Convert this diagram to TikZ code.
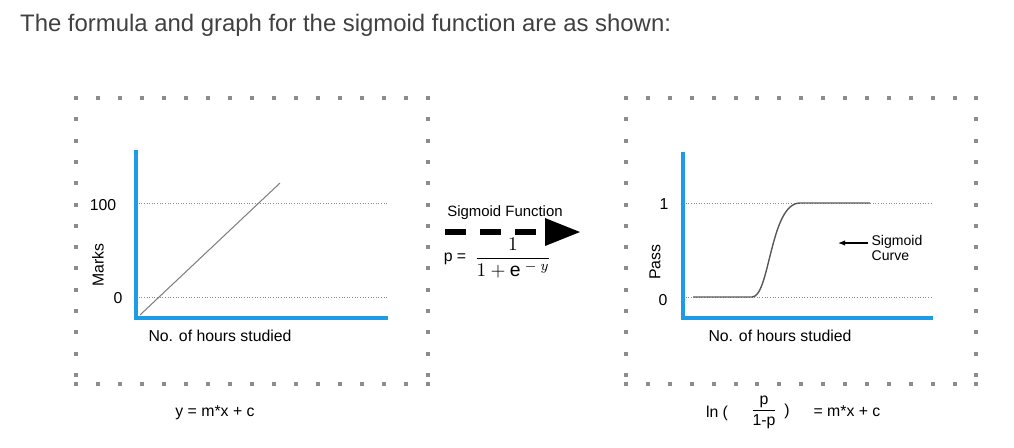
\documentclass[tikz,border=0pt]{standalone}
\usepackage{fontspec}
\setmainfont{Liberation Sans}
\usepackage{amsmath}
\usetikzlibrary{arrows.meta}
\definecolor{axisblue}{HTML}{1E9BE6}
\definecolor{dotgray}{HTML}{8C8C8C}
\tikzset{
  axis/.style={axisblue, line width=2.2pt},
  guide/.style={dotgray, densely dotted, line width=0.5pt},
  lbl/.style={font=\fontsize{9}{10}\selectfont, inner sep=1pt},
}
\begin{document}
\begin{tikzpicture}[x=0.02cm,y=-0.02cm]
  \useasboundingbox (0,0) rectangle (1014,447);
  \node[anchor=west, text=black!75, font=\fontsize{13.6}{16}\selectfont] (title) at (14,25) {The formula and graph for the sigmoid function are as shown:};
  % dotted frames
  \foreach \xx in {76,428,626,976} \foreach \yy in {0,...,13} \fill[dotgray] (\xx-2,98+21.3*\yy-2) rectangle (\xx+2,98+21.3*\yy+2);
  \foreach \yy in {98,384} {
    \foreach \i in {0,...,16} \fill[dotgray] (76+22*\i-2,\yy-2) rectangle (76+22*\i+2,\yy+2);
    \foreach \i in {0,...,16} \fill[dotgray] (626+21.9*\i-2,\yy-2) rectangle (626+21.9*\i+2,\yy+2);
  }
  % left graph
  \draw[guide] (136,203) -- (388,203);
  \draw[guide] (136,297) -- (388,297);
  \draw[gray, line width=0.6pt] (140,315) -- (280,183);
  \draw[axis] (136,150) -- (136,318) -- (388,318);
  \node[lbl] (lhund) at (103,205) {100};
  \node[lbl] (lzero) at (118,298) {0};
  \node[lbl, rotate=90] (marks) at (98,265) {Marks};
  \node[lbl] (lxlab) at (220,336) {No. of hours studied};
  \node[lbl] (lform) at (215,413) {y = m*x + c};
  % middle
  \node[lbl, font=\fontsize{8.5}{10}\selectfont] (sigf) at (505,213) {Sigmoid Function};
  \coordinate (as) at (445,232);
  \coordinate (ae) at (580,232);
  \draw[line width=3pt, dash pattern=on 12pt off 8pt] (as) -- (545,232);
  \fill (545,218) -- (ae) -- (545,246) -- cycle;
  \node[lbl] (peq) at (455,259) {p =};
  \node[lbl, font=\fontsize{11}{12}\selectfont] (frac) at (513,258) {$\dfrac{1}{1+\mathrm{e}^{\;-\;y}}$};
  % right graph
  \draw[guide] (683,203) -- (933,203);
  \draw[guide] (683,297) -- (933,297);
  \draw[gray!70!black, line width=0.8pt] (693,297) -- (752,297) .. controls (770,297) and (770,203) .. (800,203) -- (870,203);
  \draw[axis] (683,152) -- (683,318) -- (933,318);
  \node[lbl] (rone) at (664,204) {1};
  \node[lbl] (rzero) at (663,300) {0};
  \node[lbl, rotate=90] (pass) at (655,262) {Pass};
  \node[lbl, align=left, font=\fontsize{8}{9}\selectfont] (sigc) at (897,248) {Sigmoid\\Curve};
  \draw[-{Latex[length=4pt]}, line width=0.6pt] (868,243) -- (838,243);
  \node[lbl] (rxlab) at (780,336) {No. of hours studied};
  \node[lbl] (ln) at (717,413) {ln (};
  \node[lbl, font=\fontsize{9}{10}\selectfont] (pfrac) at (764,412) {$\dfrac{\text{p}}{\text{1-p}}$};
  \node[lbl] (rpar) at (787,411) {)};
  \node[lbl] (rhs) at (847,411) {= m*x + c};
\end{tikzpicture}
\end{document}
